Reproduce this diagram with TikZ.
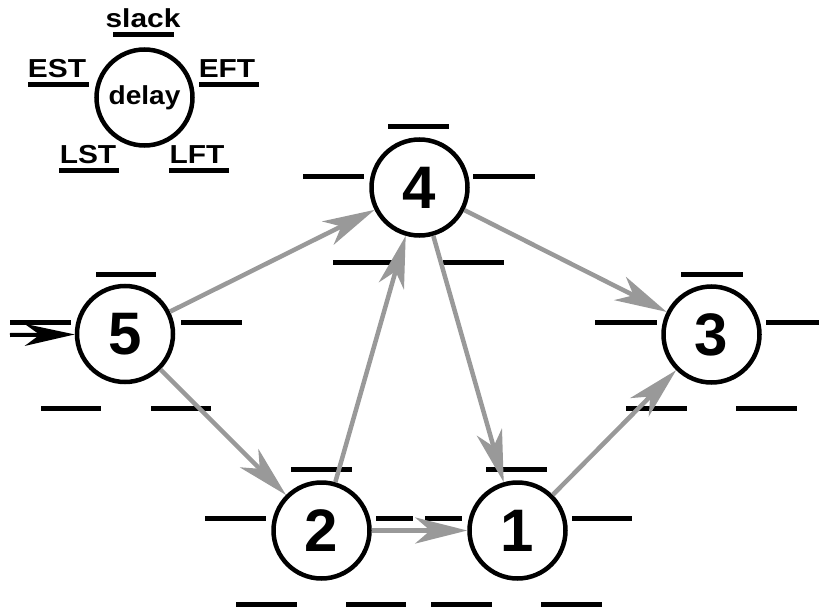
\documentclass[tikz,border=0pt]{standalone}
\usepackage{fontspec}
\setmainfont{Liberation Sans}
\usetikzlibrary{arrows.meta}
\definecolor{arrowgray}{RGB}{153,153,153}
\newcommand\wide[1]{\scalebox{1.15}[1]{#1}}
\begin{document}
\begin{tikzpicture}[x=1pt,y=-1pt,
  task/.style={circle, draw=black, fill=white, line width=4.5pt, minimum size=96pt, inner sep=0pt, font=\fontsize{60}{60}\selectfont\bfseries},
  legcirc/.style={circle, draw=black, line width=4.5pt, minimum size=96pt, inner sep=0pt, font=\fontsize{26}{26}\selectfont\bfseries},
  lbl/.style={anchor=base, inner sep=0pt, font=\fontsize{26}{26}\selectfont\bfseries},
  tick/.style={line width=5pt, black},
  flow/.style={line width=4.5pt, arrowgray, -{Stealth[length=52pt,width=26pt,inset=15pt]}},
  entry/.style={line width=4pt, black, -{Stealth[length=50pt,width=22pt,inset=15pt]}},
]
\useasboundingbox (0,0) rectangle (819,607);

% legend
\node[legcirc] (leg) at (144.5,97.5) {\scalebox{1.08}[1]{delay}};
\node[lbl] (lslack) at (143,28) {\wide{slack}};
\node[lbl] (lest) at (57,78) {\wide{EST}};
\node[lbl] (left) at (227,78) {\wide{EFT}};
\node[lbl] (llst) at (88,163) {\wide{LST}};
\node[lbl] (llft) at (197,163) {\wide{LFT}};
\draw[tick] (113,35) -- (174,35);
\draw[tick] (28,85) -- (89,85);
\draw[tick] (199,85) -- (259,85);
\draw[tick] (59,170) -- (119,170);
\draw[tick] (169,170) -- (229,170);

% ticks
% node 5
\draw[tick] (96,274) -- (156,274);
\draw[tick] (10,322) -- (71,322);
\draw[tick] (181,322) -- (242,322);
\draw[tick] (41,408) -- (101,408);
\draw[tick] (151,408) -- (211,408);
% node 4
\draw[tick] (388,127) -- (449,127);
\draw[tick] (303,176) -- (364,176);
\draw[tick] (473,176) -- (535,176);
\draw[tick] (333,262) -- (394,262);
\draw[tick] (443,262) -- (504,262);
% node 3
\draw[tick] (681,274) -- (743,274);
\draw[tick] (595,322) -- (657,322);
\draw[tick] (766,322) -- (819,322);
\draw[tick] (626,408) -- (687,408);
\draw[tick] (736,408) -- (797,408);
% node 2
\draw[tick] (291,469) -- (352,469);
\draw[tick] (205,518) -- (266,518);
\draw[tick] (376,518) -- (413,518);
\draw[tick] (236,604) -- (297,604);
\draw[tick] (346,604) -- (406,604);
% node 1
\draw[tick] (486,469) -- (547,469);
\draw[tick] (425,518) -- (462,518);
\draw[tick] (572,518) -- (632,518);
\draw[tick] (431,604) -- (492,604);
\draw[tick] (541,604) -- (602,604);

% task nodes
\node[task] (n5) at (125,334) {5};
\node[task] (n4) at (419.5,187.5) {4};
\node[task] (n3) at (711.5,334.5) {3};
\node[task] (n2) at (321.5,530.5) {2};
\node[task] (n1) at (517.5,530.5) {1};

% connectors
\coordinate (in) at (10,335);
\draw[entry] (in) -- (n5);
\draw[flow] (n5) -- (n4);
\draw[flow] (n5) -- (n2);
\draw[flow] (n2) -- (n4);
\draw[flow] (n4) -- (n1);
\draw[flow] (n4) -- (n3);
\draw[flow] (n1) -- (n3);
\draw[flow] (n2) -- (n1);
\end{tikzpicture}
\end{document}
